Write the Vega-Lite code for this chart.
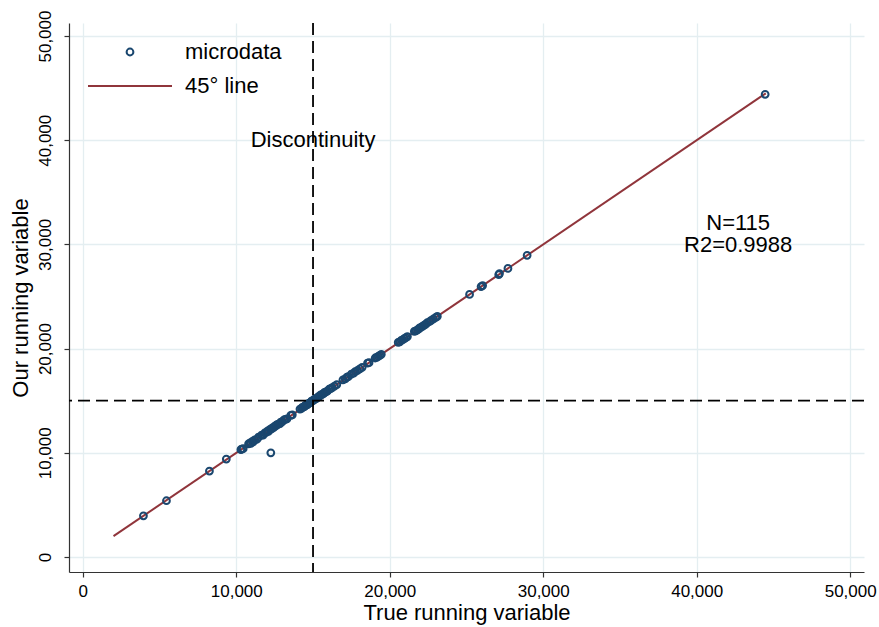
{
  "$schema": "https://vega.github.io/schema/vega-lite/v6.json",
  "width": 795,
  "height": 549,
  "autosize": "none",
  "padding": {"left": 69, "top": 23, "right": 15, "bottom": 55},
  "background": "white",
  "config": {
    "font": "Liberation Sans",
    "view": {"stroke": null},
    "axis": {
      "grid": true,
      "gridColor": "#e4eef1",
      "gridWidth": 1.3,
      "domainColor": "#333333",
      "domainWidth": 1.2,
      "tickColor": "#333333",
      "tickWidth": 1.2,
      "tickSize": 5,
      "labelFont": "Liberation Sans",
      "labelFontSize": 17,
      "labelColor": "#000000",
      "titleFont": "Liberation Sans",
      "titleFontSize": 22,
      "titleFontWeight": "normal",
      "titleColor": "#000000",
      "labelFlush": false,
      "labelOverlap": false
    }
  },
  "datasets": {
    "micro": [
      {"x": 3950, "y": 3950, "series": "microdata"},
      {"x": 5450, "y": 5400, "series": "microdata"},
      {"x": 8250, "y": 8250, "series": "microdata"},
      {"x": 9350, "y": 9400, "series": "microdata"},
      {"x": 10300, "y": 10300, "series": "microdata"},
      {"x": 10350, "y": 10350, "series": "microdata"},
      {"x": 10450, "y": 10400, "series": "microdata"},
      {"x": 12250, "y": 10000, "series": "microdata"},
      {"x": 10800, "y": 10850, "series": "microdata"},
      {"x": 10900, "y": 10950, "series": "microdata"},
      {"x": 10950, "y": 10900, "series": "microdata"},
      {"x": 11050, "y": 11100, "series": "microdata"},
      {"x": 11100, "y": 11050, "series": "microdata"},
      {"x": 11200, "y": 11250, "series": "microdata"},
      {"x": 11350, "y": 11300, "series": "microdata"},
      {"x": 11450, "y": 11500, "series": "microdata"},
      {"x": 11650, "y": 11700, "series": "microdata"},
      {"x": 11750, "y": 11700, "series": "microdata"},
      {"x": 11850, "y": 11900, "series": "microdata"},
      {"x": 11950, "y": 11950, "series": "microdata"},
      {"x": 12050, "y": 12100, "series": "microdata"},
      {"x": 12100, "y": 12050, "series": "microdata"},
      {"x": 12200, "y": 12250, "series": "microdata"},
      {"x": 12300, "y": 12300, "series": "microdata"},
      {"x": 12350, "y": 12400, "series": "microdata"},
      {"x": 12450, "y": 12450, "series": "microdata"},
      {"x": 12500, "y": 12550, "series": "microdata"},
      {"x": 12600, "y": 12600, "series": "microdata"},
      {"x": 12650, "y": 12700, "series": "microdata"},
      {"x": 12750, "y": 12750, "series": "microdata"},
      {"x": 12850, "y": 12800, "series": "microdata"},
      {"x": 12900, "y": 12950, "series": "microdata"},
      {"x": 13000, "y": 13000, "series": "microdata"},
      {"x": 13100, "y": 13150, "series": "microdata"},
      {"x": 13200, "y": 13200, "series": "microdata"},
      {"x": 13300, "y": 13250, "series": "microdata"},
      {"x": 13550, "y": 13600, "series": "microdata"},
      {"x": 13650, "y": 13650, "series": "microdata"},
      {"x": 14150, "y": 14200, "series": "microdata"},
      {"x": 14250, "y": 14250, "series": "microdata"},
      {"x": 14300, "y": 14350, "series": "microdata"},
      {"x": 14400, "y": 14400, "series": "microdata"},
      {"x": 14450, "y": 14450, "series": "microdata"},
      {"x": 14500, "y": 14550, "series": "microdata"},
      {"x": 14600, "y": 14600, "series": "microdata"},
      {"x": 14650, "y": 14650, "series": "microdata"},
      {"x": 14700, "y": 14750, "series": "microdata"},
      {"x": 14800, "y": 14800, "series": "microdata"},
      {"x": 14850, "y": 14850, "series": "microdata"},
      {"x": 14900, "y": 14950, "series": "microdata"},
      {"x": 14980, "y": 15000, "series": "microdata"},
      {"x": 15050, "y": 15050, "series": "microdata"},
      {"x": 15100, "y": 15150, "series": "microdata"},
      {"x": 15200, "y": 15200, "series": "microdata"},
      {"x": 15250, "y": 15250, "series": "microdata"},
      {"x": 15350, "y": 15400, "series": "microdata"},
      {"x": 15450, "y": 15450, "series": "microdata"},
      {"x": 15500, "y": 15550, "series": "microdata"},
      {"x": 15600, "y": 15600, "series": "microdata"},
      {"x": 15700, "y": 15700, "series": "microdata"},
      {"x": 15750, "y": 15800, "series": "microdata"},
      {"x": 15850, "y": 15850, "series": "microdata"},
      {"x": 15950, "y": 15950, "series": "microdata"},
      {"x": 16050, "y": 16100, "series": "microdata"},
      {"x": 16150, "y": 16150, "series": "microdata"},
      {"x": 16250, "y": 16250, "series": "microdata"},
      {"x": 16400, "y": 16400, "series": "microdata"},
      {"x": 16550, "y": 16550, "series": "microdata"},
      {"x": 16950, "y": 17000, "series": "microdata"},
      {"x": 17100, "y": 17100, "series": "microdata"},
      {"x": 17200, "y": 17250, "series": "microdata"},
      {"x": 17300, "y": 17300, "series": "microdata"},
      {"x": 17500, "y": 17550, "series": "microdata"},
      {"x": 17650, "y": 17650, "series": "microdata"},
      {"x": 17750, "y": 17800, "series": "microdata"},
      {"x": 17900, "y": 17900, "series": "microdata"},
      {"x": 18050, "y": 18050, "series": "microdata"},
      {"x": 18200, "y": 18200, "series": "microdata"},
      {"x": 18550, "y": 18600, "series": "microdata"},
      {"x": 18650, "y": 18650, "series": "microdata"},
      {"x": 19050, "y": 19100, "series": "microdata"},
      {"x": 19150, "y": 19150, "series": "microdata"},
      {"x": 19250, "y": 19250, "series": "microdata"},
      {"x": 19350, "y": 19350, "series": "microdata"},
      {"x": 19450, "y": 19450, "series": "microdata"},
      {"x": 20550, "y": 20600, "series": "microdata"},
      {"x": 20650, "y": 20650, "series": "microdata"},
      {"x": 20750, "y": 20800, "series": "microdata"},
      {"x": 20850, "y": 20850, "series": "microdata"},
      {"x": 20950, "y": 20950, "series": "microdata"},
      {"x": 21050, "y": 21050, "series": "microdata"},
      {"x": 21150, "y": 21150, "series": "microdata"},
      {"x": 21600, "y": 21650, "series": "microdata"},
      {"x": 21700, "y": 21700, "series": "microdata"},
      {"x": 21800, "y": 21800, "series": "microdata"},
      {"x": 21900, "y": 21900, "series": "microdata"},
      {"x": 21950, "y": 22000, "series": "microdata"},
      {"x": 22050, "y": 22050, "series": "microdata"},
      {"x": 22150, "y": 22150, "series": "microdata"},
      {"x": 22250, "y": 22250, "series": "microdata"},
      {"x": 22350, "y": 22350, "series": "microdata"},
      {"x": 22450, "y": 22500, "series": "microdata"},
      {"x": 22600, "y": 22600, "series": "microdata"},
      {"x": 22700, "y": 22700, "series": "microdata"},
      {"x": 22850, "y": 22850, "series": "microdata"},
      {"x": 23000, "y": 23000, "series": "microdata"},
      {"x": 23100, "y": 23100, "series": "microdata"},
      {"x": 25200, "y": 25200, "series": "microdata"},
      {"x": 25950, "y": 25950, "series": "microdata"},
      {"x": 26050, "y": 26050, "series": "microdata"},
      {"x": 27100, "y": 27100, "series": "microdata"},
      {"x": 27150, "y": 27200, "series": "microdata"},
      {"x": 27700, "y": 27700, "series": "microdata"},
      {"x": 28950, "y": 28950, "series": "microdata"},
      {"x": 44460, "y": 44400, "series": "microdata"}
    ],
    "fit": [
      {"x": 2000, "y": 2000, "series": "45° line"},
      {"x": 44500, "y": 44500, "series": "45° line"}
    ],
    "cut": [{"v": 15000}],
    "notes": [
      {"x": 15000, "y": 40000, "label": "Discontinuity"},
      {"x": 42700, "y": 32100, "label": "N=115"},
      {"x": 42700, "y": 29900, "label": "R2=0.9988"}
    ]
  },
  "encoding": {
    "x": {
      "field": "x",
      "type": "quantitative",
      "scale": {"domain": [-900, 50900], "nice": false, "zero": false},
      "axis": {
        "title": "True running variable",
        "values": [0, 10000, 20000, 30000, 40000, 50000],
        "format": ",d",
        "labelPadding": 6,
        "titlePadding": 3
      }
    },
    "y": {
      "field": "y",
      "type": "quantitative",
      "scale": {"domain": [-1440, 51250], "nice": false, "zero": false},
      "axis": {
        "title": "Our running variable",
        "values": [0, 10000, 20000, 30000, 40000, 50000],
        "format": ",d",
        "labelAngle": -90,
        "labelAlign": "center",
        "labelBaseline": "bottom",
        "labelPadding": 10,
        "titlePadding": 4
      }
    }
  },
  "layer": [
    {
      "data": {"name": "fit"},
      "mark": {"type": "line", "strokeWidth": 2},
      "encoding": {
        "color": {
          "field": "series",
          "type": "nominal",
          "scale": {"domain": ["microdata", "45° line"], "range": ["#1a476f", "#90353b"]},
          "legend": {
            "title": null,
            "orient": "none",
            "legendX": 50,
            "legendY": 18,
            "padding": 0,
            "labelFontSize": 22,
            "labelFont": "Liberation Sans",
            "labelColor": "#000000",
            "labelOffset": 44,
            "rowPadding": 12,
            "symbolStrokeWidth": 2,
            "symbolOpacity": 1
          }
        }
      }
    },
    {
      "data": {"name": "micro"},
      "mark": {"type": "point", "filled": false, "strokeWidth": 2, "opacity": 1},
      "encoding": {
        "color": {"field": "series", "type": "nominal"},
        "shape": {
          "field": "series",
          "type": "nominal",
          "scale": {"domain": ["microdata", "45° line"], "range": ["circle", "M-6,0H6"]}
        },
        "size": {
          "field": "series",
          "type": "nominal",
          "scale": {"domain": ["microdata", "45° line"], "range": [46, 196]}
        }
      }
    },
    {
      "data": {"name": "cut"},
      "mark": {"type": "rule", "color": "#000000", "strokeWidth": 1.8, "strokeDash": [12, 6]},
      "encoding": {"x": {"field": "v", "type": "quantitative"}, "y": null}
    },
    {
      "data": {"name": "cut"},
      "mark": {"type": "rule", "color": "#000000", "strokeWidth": 1.8, "strokeDash": [12, 6]},
      "encoding": {"y": {"field": "v", "type": "quantitative"}, "x": null}
    },
    {
      "data": {"name": "notes"},
      "mark": {"type": "text", "fontSize": 22, "font": "Liberation Sans", "color": "#000000", "align": "center", "baseline": "middle"},
      "encoding": {"text": {"field": "label"}}
    }
  ]
}
